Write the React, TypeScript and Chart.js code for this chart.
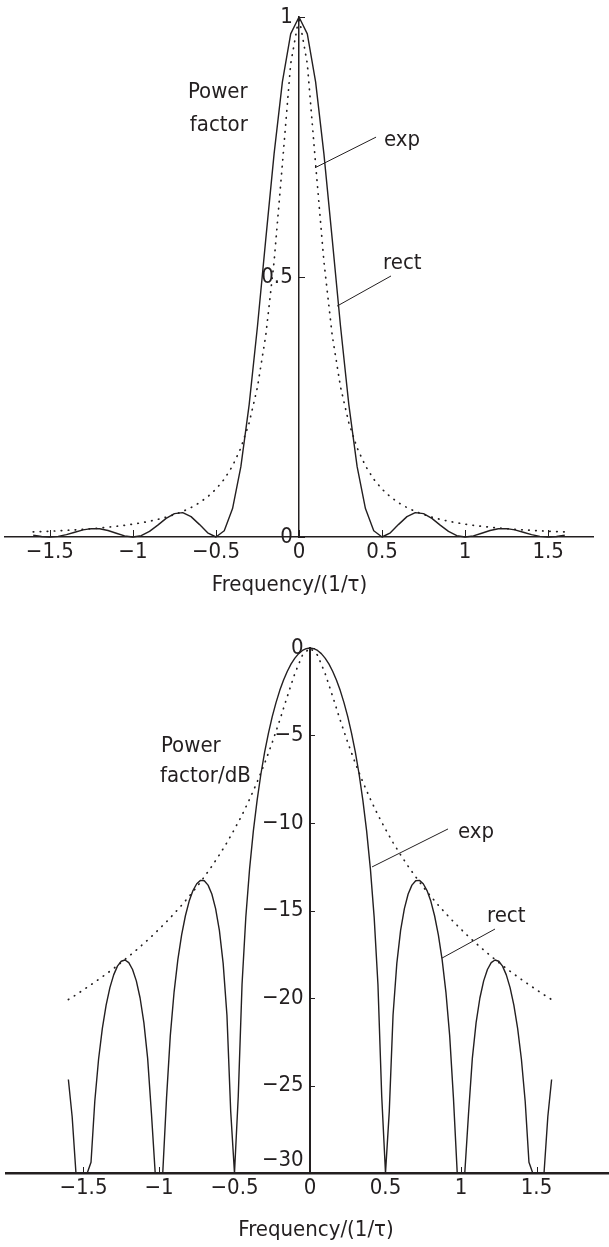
import React, { useEffect, useRef } from "react";
import { Chart, registerables } from "chart.js";

Chart.register(...registerables);

const FONT_FAMILY = "'Liberation Sans Narrow', 'DejaVu Sans Condensed', 'Liberation Sans', sans-serif";
const INK = "#231f20";

// ---------- data ----------
const freqLin = [
  -1.6, -1.55, -1.5, -1.45, -1.4, -1.35, -1.3, -1.25, -1.2, -1.15, -1.1, -1.05, -1, -0.95, -0.9, -0.85,
  -0.8, -0.75, -0.7, -0.65, -0.6, -0.55, -0.5, -0.45, -0.4, -0.35, -0.3, -0.25, -0.2, -0.15, -0.1, -0.05,
  0, 0.05, 0.1, 0.15, 0.2, 0.25, 0.3, 0.35, 0.4, 0.45, 0.5, 0.55, 0.6, 0.65, 0.7, 0.75,
  0.8, 0.85, 0.9, 0.95, 1, 1.05, 1.1, 1.15, 1.2, 1.25, 1.3, 1.35, 1.4, 1.45, 1.5, 1.55, 1.6,
];

const rectLin = [
  0.0034, 0.0010, 0, 0.0012, 0.0045, 0.0091, 0.0136, 0.0162, 0.0159, 0.0125, 0.0072, 0.0022, 0, 0.0027, 0.0108, 0.0229,
  0.0358, 0.0450, 0.0468, 0.0392, 0.0243, 0.0080, 0, 0.0119, 0.0547, 0.1353, 0.2546, 0.4053, 0.5728, 0.7368, 0.8751, 0.9675,
  1, 0.9675, 0.8751, 0.7368, 0.5728, 0.4053, 0.2546, 0.1353, 0.0547, 0.0119, 0, 0.0080, 0.0243, 0.0392, 0.0468, 0.0450,
  0.0358, 0.0229, 0.0108, 0.0027, 0, 0.0022, 0.0072, 0.0125, 0.0159, 0.0162, 0.0136, 0.0091, 0.0045, 0.0012, 0, 0.0010, 0.0034,
];

const expLin = [
  0.0098, 0.0104, 0.0111, 0.0119, 0.0128, 0.0137, 0.0148, 0.0160, 0.0173, 0.0188, 0.0205, 0.0225, 0.0247, 0.0273, 0.0303, 0.0339,
  0.0381, 0.0431, 0.0492, 0.0566, 0.0657, 0.0773, 0.0920, 0.1112, 0.1367, 0.1713, 0.2196, 0.2884, 0.3877, 0.5296, 0.7170, 0.9102,
  1, 0.9102, 0.7170, 0.5296, 0.3877, 0.2884, 0.2196, 0.1713, 0.1367, 0.1112, 0.0920, 0.0773, 0.0657, 0.0566, 0.0492, 0.0431,
  0.0381, 0.0339, 0.0303, 0.0273, 0.0247, 0.0225, 0.0205, 0.0188, 0.0173, 0.0160, 0.0148, 0.0137, 0.0128, 0.0119, 0.0111, 0.0104, 0.0098,
];

const expDb = [
  -20.09, -19.82, -19.53, -19.24, -18.94, -18.63, -18.31, -17.97, -17.62, -17.26, -16.88, -16.49, -16.07, -15.64, -15.18, -14.70,
  -14.19, -13.66, -13.08, -12.47, -11.82, -11.12, -10.36, -9.54, -8.64, -7.66, -6.58, -5.40, -4.12, -2.76, -1.45, -0.41,
  0, -0.41, -1.45, -2.76, -4.12, -5.40, -6.58, -7.66, -8.64, -9.54, -10.36, -11.12, -11.82, -12.47, -13.08, -13.66,
  -14.19, -14.70, -15.18, -15.64, -16.07, -16.49, -16.88, -17.26, -17.62, -17.97, -18.31, -18.63, -18.94, -19.24, -19.53, -19.82, -20.09,
];

const freqDb = [
  -1.6, -1.575, -1.55, -1.525, -1.5, -1.475, -1.45, -1.425, -1.4, -1.375, -1.35, -1.325, -1.3, -1.275, -1.25, -1.225,
  -1.2, -1.175, -1.15, -1.125, -1.1, -1.075, -1.05, -1.025, -1, -0.975, -0.95, -0.925, -0.9, -0.875, -0.85, -0.825,
  -0.8, -0.775, -0.75, -0.725, -0.7, -0.675, -0.65, -0.625, -0.6, -0.575, -0.55, -0.525, -0.5, -0.475, -0.45, -0.425,
  -0.4, -0.375, -0.35, -0.325, -0.3, -0.275, -0.25, -0.225, -0.2, -0.175, -0.15, -0.125, -0.1, -0.075, -0.05, -0.025,
  0,
  0.025, 0.05, 0.075, 0.1, 0.125, 0.15, 0.175, 0.2, 0.225, 0.25, 0.275, 0.3, 0.325, 0.35, 0.375, 0.4,
  0.425, 0.45, 0.475, 0.5, 0.525, 0.55, 0.575, 0.6, 0.625, 0.65, 0.675, 0.7, 0.725, 0.75, 0.775, 0.8,
  0.825, 0.85, 0.875, 0.9, 0.925, 0.95, 0.975, 1, 1.025, 1.05, 1.075, 1.1, 1.125, 1.15, 1.175, 1.2,
  1.225, 1.25, 1.275, 1.3, 1.325, 1.35, 1.375, 1.4, 1.425, 1.45, 1.475, 1.5, 1.525, 1.55, 1.575, 1.6,
];

const rectDb = [
  -24.66, -26.77, -29.97, -30, -30, -30, -29.39, -25.90, -23.50, -21.74, -20.41, -19.41, -18.68, -18.18, -17.90, -17.83,
  -17.98, -18.37, -19.02, -20.00, -21.41, -23.45, -26.59, -30, -30, -30, -25.72, -22.15, -19.66, -17.81, -16.39, -15.30,
  -14.46, -13.86, -13.47, -13.28, -13.30, -13.55, -14.06, -14.89, -16.14, -18.02, -20.97, -26.48, -30, -25.61, -19.23, -15.39,
  -12.62, -10.45, -8.69, -7.20, -5.94, -4.86, -3.92, -3.12, -2.42, -1.83, -1.33, -0.91, -0.58, -0.32, -0.14, -0.04,
  0,
  -0.04, -0.14, -0.32, -0.58, -0.91, -1.33, -1.83, -2.42, -3.12, -3.92, -4.86, -5.94, -7.20, -8.69, -10.45, -12.62,
  -15.39, -19.23, -25.61, -30, -26.48, -20.97, -18.02, -16.14, -14.89, -14.06, -13.55, -13.30, -13.28, -13.47, -13.86, -14.46,
  -15.30, -16.39, -17.81, -19.66, -22.15, -25.72, -30, -30, -30, -26.59, -23.45, -21.41, -20.00, -19.02, -18.37, -17.98,
  -17.83, -17.90, -18.18, -18.68, -19.41, -20.41, -21.74, -23.50, -25.90, -29.39, -30, -30, -30, -29.97, -26.77, -24.66,
];

const xTicks = [-1.5, -1, -0.5, 0, 0.5, 1, 1.5];
const xTickLabels = ["\u22121.5", "\u22121", "\u22120.5", "0", "0.5", "1", "1.5"];
const yTicksLin = [0, 0.5, 1];
const yTickLabelsLin = ["0", "0.5", "1"];
const yTicksDb = [0, -5, -10, -15, -20, -25, -30];
const yTickLabelsDb = ["0", "\u22125", "\u221210", "\u221215", "\u221220", "\u221225", "\u221230"];

const xTitle = "Frequency/(1/\u03c4)";

// ---------- panel specs (layout / style only) ----------
type Series = { x: number[]; y: number[]; dotted: boolean };
type Txt = { t: string; x: number; y: number; align?: CanvasTextAlign; base?: CanvasTextBaseline };
type Spec = {
  top: number;
  height: number;
  padding: { left: number; right: number; top: number; bottom: number };
  xAxisHeight: number;
  xMin: number; xMax: number; yMin: number; yMax: number;
  yTicks: number[]; yTickLabels: string[];
  series: Series[];
  xBorder: number; yBorder: number;
  xTickLen: number; yTickLen: number;
  xLabelPad: number; yLabelGap: number;
  raiseBottomLabel: boolean;
  texts: Txt[];
  leaders: number[][];
};

const topSpec: Spec = {
  top: 0,
  height: 610,
  padding: { left: 5, right: 16, top: 17, bottom: 43 },
  xAxisHeight: 30,
  xMin: -1.77, xMax: 1.77, yMin: 0, yMax: 1,
  yTicks: yTicksLin, yTickLabels: yTickLabelsLin,
  series: [
    { x: freqLin, y: rectLin, dotted: false },
    { x: freqLin, y: expLin, dotted: true },
  ],
  xBorder: 1.5, yBorder: 1.5,
  xTickLen: 7, yTickLen: 6,
  xLabelPad: 2, yLabelGap: 6,
  raiseBottomLabel: false,
  texts: [
    { t: "Power", x: -0.669, y: 0.844 },
    { t: "factor", x: -0.657, y: 0.781 },
    { t: "exp", x: 0.512, y: 0.752 },
    { t: "rect", x: 0.506, y: 0.515 },
    { t: xTitle, x: -0.057, y: -0.092, align: "center", base: "middle" },
  ],
  leaders: [
    [0.464, 0.769, 0.096, 0.710],
    [0.554, 0.502, 0.229, 0.444],
  ],
};

const bottomSpec: Spec = {
  top: 610,
  height: 637,
  padding: { left: 6, right: 0, top: 38, bottom: 44 },
  xAxisHeight: 30,
  xMin: -2.013, xMax: 1.98, yMin: -30, yMax: 0,
  yTicks: yTicksDb, yTickLabels: yTickLabelsDb,
  series: [
    { x: freqDb, y: rectDb, dotted: false },
    { x: freqLin, y: expDb, dotted: true },
  ],
  xBorder: 2.5, yBorder: 2,
  xTickLen: 6, yTickLen: 5,
  xLabelPad: 2, yLabelGap: 5,
  raiseBottomLabel: true,
  texts: [
    { t: "Power", x: -0.987, y: -5.93 },
    { t: "factor/dB", x: -0.993, y: -7.65 },
    { t: "exp", x: 0.98, y: -10.85 },
    { t: "rect", x: 1.172, y: -15.66 },
    { t: xTitle, x: 0.04, y: -33.28, align: "center", base: "middle" },
  ],
  leaders: [
    [0.914, -10.34, 0.411, -12.51],
    [1.225, -16.06, 0.874, -17.72],
  ],
};

function decorPlugin(s: Spec) {
  return {
    id: "decor",
    afterDraw(chart: any) {
      const ctx: CanvasRenderingContext2D = chart.ctx;
      const xs = chart.scales.x;
      const ys = chart.scales.y;
      const x0 = xs.getPixelForValue(0);
      const yb = ys.getPixelForValue(s.yMin);
      ctx.save();
      ctx.strokeStyle = INK;
      ctx.lineWidth = 1;
      ctx.beginPath();
      for (const v of xTicks) {
        const px = Math.round(xs.getPixelForValue(v)) + 0.5;
        ctx.moveTo(px, yb);
        ctx.lineTo(px, yb - s.xTickLen);
      }
      for (const v of s.yTicks) {
        const py = Math.round(ys.getPixelForValue(v)) + 0.5;
        ctx.moveTo(x0, py);
        ctx.lineTo(x0 + s.yTickLen, py);
      }
      for (const l of s.leaders) {
        ctx.moveTo(xs.getPixelForValue(l[0]), ys.getPixelForValue(l[1]));
        ctx.lineTo(xs.getPixelForValue(l[2]), ys.getPixelForValue(l[3]));
      }
      ctx.stroke();
      ctx.fillStyle = INK;
      ctx.font = `22px ${FONT_FAMILY}`;
      for (const t of s.texts) {
        ctx.textAlign = t.align || "left";
        ctx.textBaseline = t.base || "alphabetic";
        ctx.fillText(t.t, xs.getPixelForValue(t.x), ys.getPixelForValue(t.y));
      }
      ctx.restore();
    },
  };
}

function buildConfig(s: Spec): any {
  const tickFont = { family: FONT_FAMILY, size: 22 };
  return {
    type: "scatter",
    data: {
      datasets: s.series.map((se) => ({
        data: se.x.map((x, i) => ({ x, y: se.y[i] })),
        showLine: true,
        borderColor: INK,
        backgroundColor: INK,
        borderWidth: se.dotted ? 1.7 : 1.4,
        borderDash: se.dotted ? [0.5, 6.5] : [],
        borderCapStyle: se.dotted ? "round" : "butt",
        borderJoinStyle: "round",
        pointRadius: 0,
        pointHoverRadius: 0,
        tension: 0,
        clip: 4,
      })),
    },
    options: {
      responsive: false,
      maintainAspectRatio: false,
      animation: false,
      devicePixelRatio: 1,
      events: [],
      layout: { padding: s.padding },
      plugins: {
        legend: { display: false },
        tooltip: { enabled: false },
        title: { display: false },
      },
      scales: {
        x: {
          type: "linear",
          position: "bottom",
          min: s.xMin,
          max: s.xMax,
          afterBuildTicks: (sc: any) => {
            sc.ticks = xTicks.map((v) => ({ value: v }));
          },
          afterFit: (sc: any) => {
            sc.height = s.xAxisHeight;
          },
          grid: { display: true, drawOnChartArea: false, drawTicks: false, color: "rgba(0,0,0,0)" },
          border: { display: true, color: INK, width: s.xBorder },
          ticks: {
            font: tickFont,
            color: INK,
            padding: s.xLabelPad,
            maxRotation: 0,
            autoSkip: false,
            callback: (_v: any, i: number) => xTickLabels[i],
          },
        },
        y: {
          type: "linear",
          position: { x: 0 },
          min: s.yMin,
          max: s.yMax,
          afterBuildTicks: (sc: any) => {
            sc.ticks = s.yTicks.map((v) => ({ value: v }));
          },
          grid: {
            display: true,
            drawOnChartArea: false,
            drawTicks: true,
            tickLength: s.yLabelGap,
            color: "rgba(0,0,0,0)",
          },
          border: { display: true, color: INK, width: s.yBorder },
          ticks: {
            font: tickFont,
            color: INK,
            padding: 0,
            autoSkip: false,
            callback: (v: any, i: number) => {
              const lab = s.yTickLabels[i] + " ";
              if (s.raiseBottomLabel && v === s.yMin) return [lab, ""];
              return lab;
            },
          },
        },
      },
    },
    plugins: [decorPlugin(s)],
  };
}

function Panel({ spec }: { spec: Spec }) {
  const ref = useRef<HTMLCanvasElement>(null);
  useEffect(() => {
    const chart = new Chart(ref.current as HTMLCanvasElement, buildConfig(spec));
    return () => chart.destroy();
  }, [spec]);
  return (
    <canvas
      ref={ref}
      width={609}
      height={spec.height}
      style={{ position: "absolute", left: 0, top: spec.top, width: 609, height: spec.height, display: "block" }}
    />
  );
}

export default function App() {
  return (
    <div style={{ position: "absolute", left: 0, top: 0, width: 609, height: 1247, background: "#fff", overflow: "hidden" }}>
      <Panel spec={topSpec} />
      <Panel spec={bottomSpec} />
    </div>
  );
}
